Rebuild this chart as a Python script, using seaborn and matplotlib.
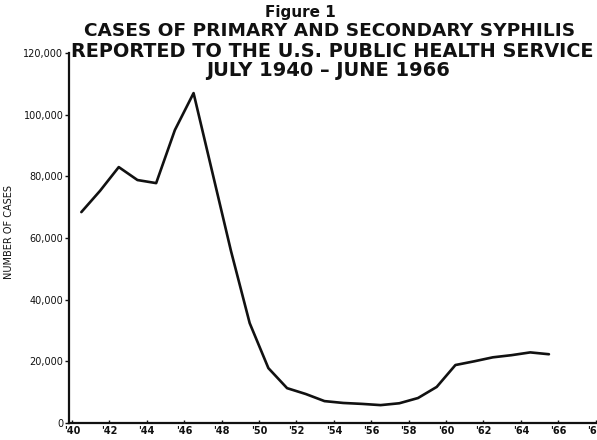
import matplotlib
matplotlib.use("Agg")
import matplotlib.pyplot as plt
import seaborn as sb
import numpy as np
import pandas as pd

# fiscal years (July-June), plotted at mid-point of the calendar year before
fiscal_years = [1941, 1942, 1943, 1944, 1945, 1946, 1947, 1948, 1949, 1950,
                1951, 1952, 1953, 1954, 1955, 1956, 1957, 1958, 1959, 1960,
                1961, 1962, 1963, 1964, 1965, 1966]
cases = [68400, 75300, 83000, 78800, 77800, 95000, 107000, 81400, 55800, 32400,
         17800, 11300, 9400, 7100, 6500, 6200, 5800, 6400, 8100, 11700,
         18800, 20000, 21300, 22000, 22900, 22300]

tick_years = list(range(1940, 1970, 2))
tick_labels = ["'" + str(y)[2:] for y in tick_years]
y_ticks = [0, 20000, 40000, 60000, 80000, 100000, 120000]
y_labels = ["0", "20,000", "40,000", "60,000", "80,000", "100,000", "120,000"]

df = pd.DataFrame({"year": np.array(fiscal_years) - 0.5, "cases": cases})

sb.set_style("ticks")
plt.rcParams["font.family"] = ["DejaVu Sans"]
plt.rcParams["text.color"] = "#111111"

fig = plt.figure(figsize=(5.97, 4.4), dpi=100)
ax = fig.add_axes([69 / 597, 17 / 440, 1 - 69 / 597, (423 - 53) / 440])

sb.lineplot(data=df, x="year", y="cases", color="#111111", linewidth=1.9, ax=ax)

ax.set_xlim(1939.84, 1968.07)
ax.set_ylim(0, 120000)
ax.set_xticks(tick_years)
ax.set_xticklabels(tick_labels, fontsize=7, fontweight="bold")
ax.set_yticks(y_ticks)
ax.set_yticklabels(y_labels, fontsize=7)
ax.tick_params(axis="y", length=3, width=1, pad=1, colors="#111111")
ax.tick_params(axis="x", length=2, width=1, pad=2, direction="in", colors="#111111")
ax.set_xlabel("")
ax.set_ylabel("NUMBER OF CASES", fontsize=7, color="#111111")
ax.yaxis.set_label_coords(-0.104, 0.516)
for s in ["left", "bottom"]:
    ax.spines[s].set_linewidth(1.6)
    ax.spines[s].set_color("#111111")
sb.despine(ax=ax)

fig.text(300 / 597, 1 - 13 / 440, "Figure 1", ha="center", va="center",
         fontsize=11, fontweight="bold")
fig.text(330 / 597, 1 - 31 / 440, "CASES OF PRIMARY AND SECONDARY SYPHILIS",
         ha="center", va="center", fontsize=13.3, fontweight="bold")
fig.text(332 / 597, 1 - 51 / 440, "REPORTED TO THE U.S. PUBLIC HEALTH SERVICE",
         ha="center", va="center", fontsize=13.9, fontweight="bold")
fig.text(328 / 597, 1 - 70 / 440, "JULY 1940 \u2013 JUNE 1966",
         ha="center", va="center", fontsize=14, fontweight="bold")

fig.savefig("out.png", dpi=100)
